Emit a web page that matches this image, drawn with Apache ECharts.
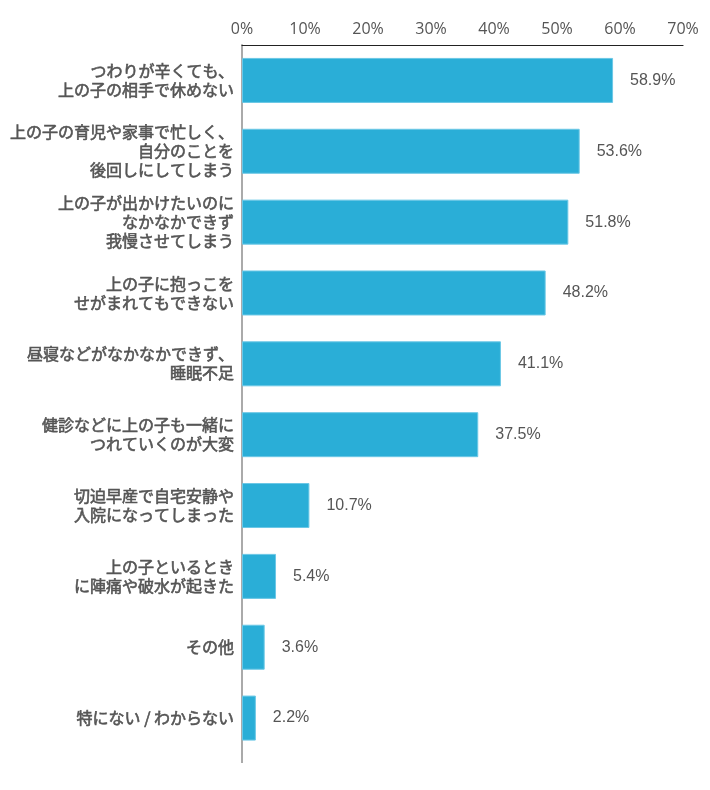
<!DOCTYPE html>
<html>
<head>
<meta charset="utf-8">
<script src="https://cdn.jsdelivr.net/npm/echarts@6/dist/echarts.min.js"></script>
<style>html,body{margin:0;padding:0;background:#fff;}#c{width:710px;height:790px;}</style>
</head>
<body>
<div id="c"></div>
<script>
const categories = [
  "つわりが辛くても、\n上の子の相手で休めない",
  "上の子の育児や家事で忙しく、\n自分のことを\n後回しにしてしまう",
  "上の子が出かけたいのに\nなかなかできず\n我慢させてしまう",
  "上の子に抱っこを\nせがまれてもできない",
  "昼寝などがなかなかできず、\n睡眠不足",
  "健診などに上の子も一緒に\nつれていくのが大変",
  "切迫早産で自宅安静や\n入院になってしまった",
  "上の子といるとき\nに陣痛や破水が起きた",
  "その他",
  "特にない / わからない"
];
const values = [58.9, 53.6, 51.8, 48.2, 41.1, 37.5, 10.7, 5.4, 3.6, 2.2];
const xTicks = [0, 10, 20, 30, 40, 50, 60, 70];

const chart = echarts.init(document.getElementById('c'));
const gridTop = 45, gridBottom = 790 - 753.5;
chart.setOption({
  animation: false,
  grid: { left: 242, right: 27, top: gridTop, bottom: gridBottom },
  xAxis: {
    type: 'value', position: 'top', min: xTicks[0], max: xTicks[xTicks.length - 1], interval: 10,
    axisLine: { show: true, lineStyle: { color: '#222', width: 1.2 } },
    axisTick: { show: false },
    splitLine: { show: false },
    axisLabel: { formatter: v => v + '%', color: '#555', fontSize: 16, margin: 8,
      fontFamily: '"Open Sans", sans-serif', fontWeight: 'normal' }
  },
  yAxis: {
    type: 'category', inverse: true, data: categories,
    axisLine: { show: true, lineStyle: { color: '#aaa', width: 2 } },
    axisTick: { show: false },
    axisLabel: { color: '#555', fontSize: 16, lineHeight: 19, margin: 8, fontWeight: 'normal',
      textBorderColor: '#555', textBorderWidth: 0.6,
      fontFamily: '"Noto Sans CJK JP", sans-serif', align: 'right' }
  },
  series: [{
    type: 'bar', data: values, barWidth: 45,
    itemStyle: { color: '#2aaed7', borderColor: '#6cc8e6', borderWidth: 1 },
    label: { show: true, position: 'right', distance: 17, formatter: p => p.value.toFixed(1) + '%',
      color: '#555', fontSize: 16, fontFamily: '"Liberation Sans", Arial, sans-serif' }
  }],
  graphic: [{
    type: 'line', shape: { x1: 242, y1: 753, x2: 242, y2: 763 },
    style: { stroke: '#aaa', lineWidth: 2 }
  }]
});
</script>
</body>
</html>
